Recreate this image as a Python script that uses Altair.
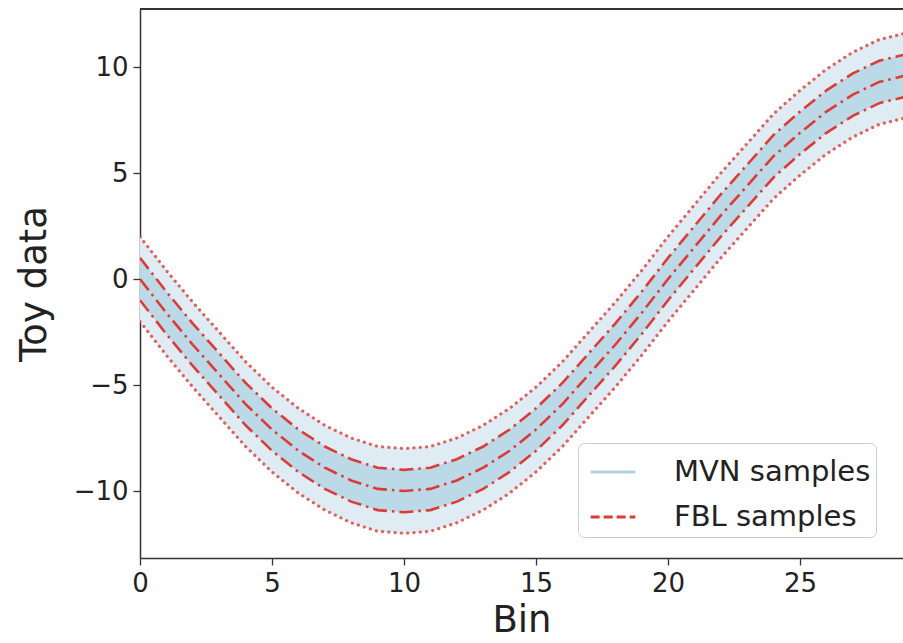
import altair as alt
import pandas as pd

# ---- data ----
bins = list(range(30))
center = [0.0, -1.6, -3.1, -4.5, -5.9, -7.1, -8.1, -8.9, -9.5, -9.9,
          -10.0, -9.9, -9.5, -8.9, -8.1, -7.1, -5.9, -4.5, -3.1, -1.6,
          0.0, 1.5, 3.0, 4.4, 5.8, 6.9, 7.9, 8.7, 9.3, 9.6]
sigma = 1.0
legend_labels = ["MVN samples", "FBL samples"]

df = pd.DataFrame({"bin": bins, "mu": center})
df["lo1"] = df["mu"] - sigma
df["hi1"] = df["mu"] + sigma
df["lo2"] = df["mu"] - 2 * sigma
df["hi2"] = df["mu"] + 2 * sigma

RED = "#dd3b36"
FONT = "DejaVu Sans"

xs = alt.Scale(domain=[0, 28.9], nice=False, zero=False)
ys = alt.Scale(domain=[-13.16, 12.74], nice=False, zero=False)

X = alt.X("bin:Q", scale=xs, title="Bin",
          axis=alt.Axis(values=[0, 5, 10, 15, 20, 25], format="d", labelFlush=False))
Y = alt.Y("lo2:Q", scale=ys, title="Toy data",
          axis=alt.Axis(values=[-10, -5, 0, 5, 10], format="d", labelFlush=False))

base = alt.Chart(df)

outer = base.mark_area(color="#e0ecf3", clip=True).encode(x=X, y=Y, y2="hi2:Q")
inner = base.mark_area(color="#bcd9e7", clip=True).encode(
    x=X, y=alt.Y("lo1:Q", scale=ys), y2="hi1:Q")


def line(field, dash):
    return base.mark_line(color=RED, strokeWidth=2.6, strokeDash=dash,
                          strokeCap="butt", clip=True).encode(
        x=alt.X("bin:Q", scale=xs), y=alt.Y(f"{field}:Q", scale=ys))


def dots(field):
    return base.mark_line(color=RED, strokeWidth=3.2, strokeDash=[0.1, 6.2],
                          strokeCap="round", clip=True, opacity=0.8).encode(
        x=alt.X("bin:Q", scale=xs), y=alt.Y(f"{field}:Q", scale=ys))


dd = [14, 5, 2.5, 5]
layers = [outer, inner, dots("lo2"), dots("hi2"),
          line("lo1", dd), line("hi1", dd), line("mu", dd)]

# legend carrier (drawn outside the domain, clipped away)
leg_df = pd.DataFrame({"bin": [-5, -4, -5, -4],
                       "v": [0, 0, 1, 1],
                       "s": [legend_labels[0], legend_labels[0],
                             legend_labels[1], legend_labels[1]]})
leg = alt.Chart(leg_df).mark_line(strokeWidth=2.6, clip=True).encode(
    x=alt.X("bin:Q", scale=xs),
    y=alt.Y("v:Q", scale=ys),
    color=alt.Color("s:N", title=None,
                    scale=alt.Scale(domain=legend_labels, range=["#b5d0e4", RED]),
                    legend=alt.Legend(orient="none", legendX=438, legendY=434,
                                      symbolType="stroke", symbolSize=2000,
                                      symbolStrokeWidth=2.8, symbolOffset=6,
                                      labelFontSize=29, labelOffset=37,
                                      labelFont=FONT, labelColor="#222222",
                                      padding=5, rowPadding=6,
                                      fillColor="white", strokeColor="#cccccc",
                                      cornerRadius=6, labelLimit=400)),
    strokeDash=alt.StrokeDash("s:N", title=None,
                              scale=alt.Scale(domain=legend_labels,
                                              range=[[1, 0], [9, 4]])),
)
layers.append(leg)

top_rule = alt.Chart(df).mark_rule(color="#333333", strokeWidth=1.5).encode(
    y=alt.value(0), x=alt.value(0), x2=alt.value(763))
layers.append(top_rule)

chart = alt.layer(*layers).properties(
    width=763, height=549,
    padding={"left": 140, "top": 9, "right": 0, "bottom": 85},
    autosize=alt.AutoSizeParams(type="none"),
).configure_view(stroke=None).configure_axis(
    domainColor="#333333", domainWidth=1.5, tickColor="#333333", tickSize=7,
    tickWidth=1.3, labelFont=FONT, labelFontSize=26, labelColor="#222222",
    titleFont=FONT, titleFontSize=37, titleFontWeight="normal", titleColor="#222222",
    grid=False, labelPadding=5,
).configure_axisY(titlePadding=20).configure_axisX(titlePadding=6)

chart.save("out.html", embed_options={"renderer": "svg", "actions": False})
